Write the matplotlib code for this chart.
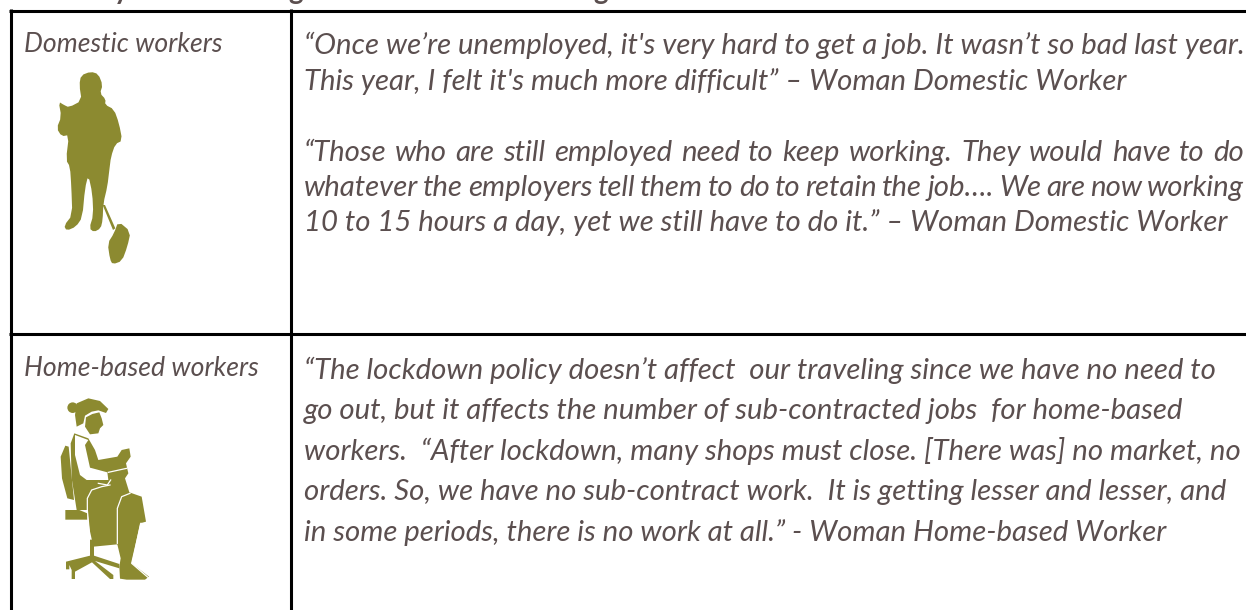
import matplotlib
matplotlib.use('Agg')
import matplotlib.pyplot as plt
from matplotlib.patches import Polygon, Circle

plt.rcParams['font.family'] = ['Lato', 'DejaVu Sans']

TEXT = '#5b4f4f'
OLIVE = '#8c8a30'
SIZE = 21.15

labels = ['Domestic workers', 'Home-based workers']
label_y = [52, 376]

# text, baseline, width in pixels (None = natural spacing)
quote_lines = [
    ("“Once we’re unemployed, it's very hard to get a job. It wasn’t so bad last year.", 54, None),
    ("This year, I felt it's much more difficult” – Woman Domestic Worker", 90, None),
    ("“Those who are still employed need to keep working. They would have to do", 161, 940),
    ("whatever the employers tell them to do to retain the job…. We are now working", 196, 940),
    ("10 to 15 hours a day, yet we still have to do it.” – Woman Domestic Worker", 231, None),
    ("“The lockdown policy doesn’t affect  our traveling since we have no need to", 379, None),
    ("go out, but it affects the number of sub-contracted jobs  for home-based", 419, None),
    ("workers.  “After lockdown, many shops must close. [There was] no market, no", 460, None),
    ("orders. So, we have no sub-contract work.  It is getting lesser and lesser, and", 500, None),
    ("in some periods, there is no work at all.” - Woman Home-based Worker", 541, None),
]

# bits of the cut-off heading above the table
heading_bits = [('y', 114), ('g', 288), ('g', 593)]

fig = plt.figure(figsize=(12.46, 6.10), dpi=100)
ax = fig.add_axes([0, 0, 1, 1])
ax.set_xlim(0, 1246)
ax.set_ylim(610, 0)
ax.axis('off')

# table rules
ax.plot([9, 1246], [10.7, 10.7], color='black', lw=2.2, solid_capstyle='butt')
ax.plot([9, 1246], [334, 334], color='black', lw=2.2, solid_capstyle='butt')
ax.plot([10.5, 10.5], [9, 610], color='black', lw=2.2, solid_capstyle='butt')
ax.plot([290.7, 290.7], [9, 610], color='black', lw=2.2, solid_capstyle='butt')

for ch, x in heading_bits:
    ax.text(x, -1.5, ch, fontsize=20, fontweight='bold', color=TEXT, va='baseline')

for lab, y in zip(labels, label_y):
    ax.text(24, y, lab, fontsize=19.15, style='italic', color=TEXT, va='baseline')

renderer = fig.canvas.get_renderer()


def width_of(s):
    t = ax.text(0, 0, s, fontsize=SIZE, style='italic')
    w = t.get_window_extent(renderer).width
    t.remove()
    return w


for line, y, target in quote_lines:
    if target is None:
        ax.text(304, y, line, fontsize=SIZE, style='italic', color=TEXT, va='baseline')
        continue
    # these two lines are set tighter or looser in the original
    words = line.split(' ')
    widths = [width_of(w) for w in words]
    gap = (target - sum(widths)) / (len(words) - 1)
    x = 304
    for w, wd in zip(words, widths):
        ax.text(x, y, w, fontsize=SIZE, style='italic', color=TEXT, va='baseline')
        x += wd + gap


def zoomed(pts, x0, y0):
    return [(x0 + px / 3, y0 + py / 3) for px, py in pts]


def smooth(pts, rounds=1):
    for _ in range(rounds):
        new = []
        for i, (ax_, ay) in enumerate(pts):
            bx, by = pts[(i + 1) % len(pts)]
            new.append((0.75 * ax_ + 0.25 * bx, 0.75 * ay + 0.25 * by))
            new.append((0.25 * ax_ + 0.75 * bx, 0.25 * ay + 0.75 * by))
        pts = new
    return pts


# domestic worker silhouette
body = [(212, 35), (235, 42), (248, 75), (240, 100), (257, 118), (255, 134), (282, 148), (297, 190), (307, 242),
        (286, 252), (273, 290), (268, 330), (262, 380), (250, 430), (248, 480), (242, 505), (222, 516), (208, 505),
        (220, 465), (217, 400), (205, 345), (195, 385), (187, 472), (168, 500), (140, 512), (132, 497), (157, 465),
        (154, 380), (150, 320), (138, 300), (147, 225), (125, 229), (110, 205), (124, 170), (116, 125), (132, 135),
        (147, 142), (185, 122), (178, 75), (183, 46)]
broom = [(295, 484), (332, 515), (322, 560), (306, 603), (278, 613), (270, 598), (263, 550), (282, 520)]
stick = [(248, 435), (255, 435), (286, 505), (279, 510)]
for shape in (body, broom):
    ax.add_patch(Polygon(zoomed(smooth(shape), 20, 60), closed=True, color=OLIVE, lw=0))
ax.add_patch(Polygon(zoomed(stick, 20, 60), closed=True, color=OLIVE, lw=0))

# home-based worker
x0, y0 = 30, 385
hair = [(140, 55), (175, 40), (210, 48), (235, 72), (228, 84), (205, 76), (185, 80), (165, 92), (160, 115),
        (140, 125), (135, 90)]
face = [(168, 97), (187, 87), (208, 82), (215, 100), (220, 120), (210, 130), (205, 145), (180, 148), (165, 125)]
figure = [(122, 175), (133, 145), (175, 160), (195, 195), (205, 225), (262, 215), (275, 195), (298, 190),
          (302, 215), (288, 235), (295, 265), (285, 280), (298, 322), (335, 335), (348, 410), (330, 415),
          (305, 535), (357, 575), (345, 584), (290, 584), (270, 581), (268, 545), (272, 520), (262, 478),
          (190, 485), (178, 430), (172, 375), (140, 375), (125, 280)]
blouse = [(135, 150), (175, 165), (165, 180), (180, 248), (232, 262), (235, 285), (170, 285), (150, 270), (135, 210)]
chair_back = [(106, 182), (116, 185), (132, 345), (112, 340), (96, 280), (92, 215)]
seat = [(106, 375), (148, 375), (172, 385), (172, 404), (106, 404)]
post = [(180, 464), (192, 464), (192, 512), (268, 537), (268, 550), (195, 528), (250, 570), (250, 582),
        (240, 582), (186, 532), (135, 560), (135, 582), (125, 582), (125, 555), (118, 540), (118, 553), (108, 553),
        (108, 530), (180, 512)]
for shape in (hair, face, figure, chair_back, seat, post):
    ax.add_patch(Polygon(zoomed(shape, x0, y0), closed=True, color=OLIVE, lw=0))
ax.add_patch(Circle((x0 + 128 / 3, y0 + 68 / 3), 5.3, color=OLIVE, lw=0))
ax.add_patch(Polygon(zoomed(blouse, x0, y0), closed=True, color='white', lw=0))

# white seams on the skirt and leg
seams = [
    [(178, 440), (172, 375), (172, 340), (185, 315), (215, 305), (240, 300)],
    [(262, 475), (262, 370), (275, 335), (300, 325)],
    [(333, 415), (305, 535), (355, 578)],
    [(205, 295), (232, 300), (242, 285)],
    [(235, 262), (290, 250)],
]
for seam in seams:
    pts = zoomed(seam, x0, y0)
    ax.plot([p[0] for p in pts], [p[1] for p in pts], color='white', lw=0.9)

fig.savefig('out.png', dpi=100)
